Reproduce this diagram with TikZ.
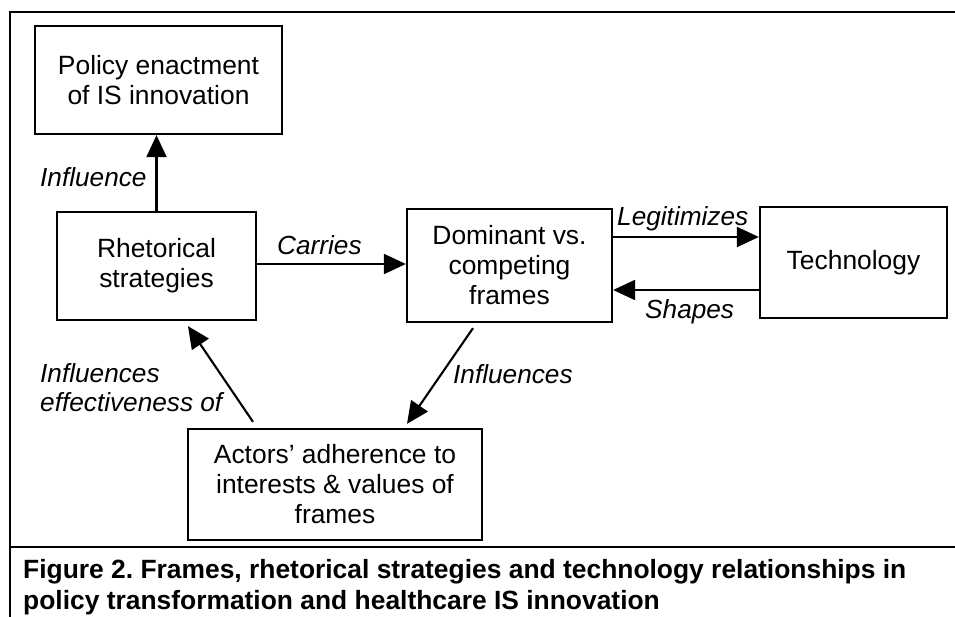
\documentclass[tikz,border=0pt]{standalone}
\usepackage{fontspec}
\setmainfont{Liberation Sans}
\usetikzlibrary{arrows.meta}
\frenchspacing
\begin{document}
\begin{tikzpicture}[x=1pt,y=-1pt,
  box/.style={draw, line width=2.3pt, inner sep=0pt, align=center, font=\fontsize{26.4}{30}\selectfont},
  arr/.style={line width=2.1pt, -{Triangle[length=22pt,width=20pt]}},
  lbl/.style={font=\fontsize{26.2}{30}\selectfont\itshape, inner sep=0pt, anchor=base west},
  captxt/.style={font=\fontsize{26.4}{31}\selectfont\bfseries, inner sep=0pt, anchor=base west},
  outline/.style={line width=2.6pt}]
\useasboundingbox (0,0) rectangle (955,617);
% frame
\draw[outline] (955,12) -- (10,12) -- (10,617);
\draw[outline] (10,547) -- (955,547);
% boxes
\node[box, minimum width=247pt, minimum height=108pt] (pol) at (158.5,80) {Policy enactment\\of IS innovation};
\node[box, minimum width=199pt, minimum height=108pt] (rhet) at (156.5,266) {Rhetorical\\strategies};
\node[box, minimum width=205pt, minimum height=113pt] (dom) at (509.5,265.5) {Dominant vs.\\competing\\frames};
\node[box, minimum width=187pt, minimum height=111pt] (tech) at (853.5,262.5) {Technology};
\node[box, minimum width=294pt, minimum height=111pt] (act) at (335,484.5) {Actors’ adherence to\\interests \& values of\\frames};
% connectors
\draw[arr] (rhet.north) -- (rhet.north |- pol.south);
\draw[arr] ([yshift=2pt]rhet.east) -- ([yshift=2pt]rhet.east -| dom.west);
\draw[arr] ([yshift=28.5pt]dom.east) -- ([yshift=28.5pt]dom.east -| tech.west);
\draw[arr] ([yshift=-27.5pt]tech.west) -- ([yshift=-27.5pt]tech.west -| dom.east);
\draw[arr] ([xshift=-36.5pt,yshift=-5pt]dom.south) -- ([xshift=72pt,yshift=4pt]act.north);
\draw[arr] ([xshift=-82pt,yshift=6pt]act.north) -- ([xshift=31.5pt,yshift=-5pt]rhet.south);
% labels
\node[lbl] (l1) at (40,187) {Influence};
\node[lbl] (l2) at (277,255) {Carries};
\node[lbl] (l3) at (617,226) {Legitimizes};
\node[lbl] (l4) at (645,319) {Shapes};
\node[lbl] (l5) at (453,383) {Influences};
\node[lbl] (l6) at (40,382) {Influences};
\node[lbl] (l7) at (40,411) {effectiveness of};
% caption
\node[captxt] (c1) at (23,578) {Figure 2. Frames, rhetorical strategies and technology relationships in};
\node[captxt] (c2) at (23,609) {policy transformation and healthcare IS innovation};
\end{tikzpicture}
\end{document}
